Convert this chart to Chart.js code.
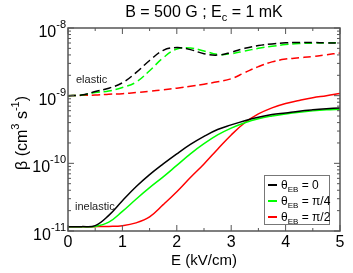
<!DOCTYPE html>
<html>
<head>
<meta charset="utf-8">
<script src="https://cdn.jsdelivr.net/npm/chart.js@4.4.1/dist/chart.umd.min.js"></script>
<style>
    body { margin: 0; background: #fff; }
    canvas { display: block; }
</style>
</head>
<body>
<canvas id="rate-chart" width="353" height="273"></canvas>
<script>
// Electric field values (kV/cm)
const eField = [0, 0.25, 0.5, 0.75, 1, 1.25, 1.5, 1.75, 2, 2.25, 2.5, 2.75, 3, 3.25, 3.5, 3.75, 4, 4.25, 4.5, 4.75, 5];

// Elastic rates (cm^3 s^-1), dashed
const elastic0 = [1.0e-9, 1.02e-9, 1.15e-9, 1.29e-9, 1.55e-9, 2.19e-9, 3.31e-9, 4.68e-9, 5.13e-9, 4.79e-9, 4.17e-9, 3.98e-9, 4.37e-9, 5.01e-9, 5.5e-9, 5.82e-9, 6.03e-9, 6.1e-9, 6.1e-9, 6.03e-9, 6.03e-9];
const elasticQuarter = [1.0e-9, 1.02e-9, 1.11e-9, 1.17e-9, 1.32e-9, 1.58e-9, 2.34e-9, 3.63e-9, 4.9e-9, 5.07e-9, 4.57e-9, 4.07e-9, 4.17e-9, 4.57e-9, 5.01e-9, 5.37e-9, 5.69e-9, 5.89e-9, 5.96e-9, 6.03e-9, 6.03e-9];
const elasticHalf = [1.0e-9, 1.01e-9, 1.02e-9, 1.05e-9, 1.07e-9, 1.11e-9, 1.16e-9, 1.22e-9, 1.29e-9, 1.38e-9, 1.48e-9, 1.6e-9, 1.78e-9, 2.19e-9, 2.69e-9, 3.16e-9, 3.47e-9, 3.63e-9, 3.8e-9, 4.03e-9, 4.27e-9];

// Inelastic rates (cm^3 s^-1), solid
const inelastic0 = [1.16e-11, 1.16e-11, 1.2e-11, 1.7e-11, 2.8e-11, 4.5e-11, 6.8e-11, 9.8e-11, 1.38e-10, 1.9e-10, 2.5e-10, 3.16e-10, 3.7e-10, 4.27e-10, 4.8e-10, 5.25e-10, 5.56e-10, 5.9e-10, 6.17e-10, 6.4e-10, 6.6e-10];
const inelasticQuarter = [1.16e-11, 1.16e-11, 1.17e-11, 1.35e-11, 1.95e-11, 2.95e-11, 4.37e-11, 6.31e-11, 9.33e-11, 1.38e-10, 1.95e-10, 2.63e-10, 3.31e-10, 3.98e-10, 4.57e-10, 5.01e-10, 5.37e-10, 5.69e-10, 5.96e-10, 6.17e-10, 6.31e-10];
const inelasticHalf = [1.16e-11, 1.16e-11, 1.16e-11, 1.17e-11, 1.2e-11, 1.32e-11, 1.62e-11, 2.45e-11, 3.8e-11, 6.17e-11, 9.8e-11, 1.62e-10, 2.63e-10, 3.98e-10, 5.37e-10, 6.61e-10, 7.67e-10, 8.51e-10, 9.33e-10, 1.0e-9, 1.08e-9];

// Axis ticks
const xTicks = [0, 1, 2, 3, 4, 5];
const xMinorTicks = [0.5, 1.5, 2.5, 3.5, 4.5];
const yDecades = [-11, -10, -9, -8];

const legendLabels = ['0', '\u03c0/4', '\u03c0/2'];
const seriesColors = ['#000000', '#00ff00', '#ff0000'];

const FONT = '"Liberation Sans", Arial, sans-serif';

function pairs(ys) {
    return eField.map((x, i) => ({ x: x, y: ys[i] }));
}

function makeSet(ys, color, dashed) {
    return {
        data: pairs(ys),
        borderColor: color,
        borderWidth: 1.5,
        borderDash: dashed ? [8, 4] : [],
        pointRadius: 0,
        fill: false,
        tension: 0.4
    };
}

// Draw text with a raised or lowered small part, left aligned at x
function drawRich(ctx, parts, x, y) {
    let cx = x;
    parts.forEach(p => {
        ctx.font = p.size + 'px ' + FONT;
        ctx.fillText(p.text, cx, y + (p.dy || 0));
        cx += ctx.measureText(p.text).width;
    });
    return cx - x;
}

function richWidth(ctx, parts) {
    let w = 0;
    parts.forEach(p => {
        ctx.font = p.size + 'px ' + FONT;
        w += ctx.measureText(p.text).width;
    });
    return w;
}

// Frame, ticks, labels and legend
const decorations = {
    id: 'decorations',
    afterDatasetsDraw(chart) {
        const ctx = chart.ctx;
        const a = chart.chartArea;
        const xs = chart.scales.x;
        const ys = chart.scales.y;

        ctx.save();
        ctx.strokeStyle = '#555';
        ctx.lineWidth = 1.5;
        ctx.strokeRect(a.left, a.top, a.right - a.left, a.bottom - a.top);

        ctx.lineWidth = 1;
        ctx.beginPath();
        xTicks.forEach(v => {
            const px = xs.getPixelForValue(v);
            ctx.moveTo(px, a.bottom); ctx.lineTo(px, a.bottom - 6);
            ctx.moveTo(px, a.top); ctx.lineTo(px, a.top + 6);
        });
        xMinorTicks.forEach(v => {
            const px = xs.getPixelForValue(v);
            ctx.moveTo(px, a.bottom); ctx.lineTo(px, a.bottom - 3);
            ctx.moveTo(px, a.top); ctx.lineTo(px, a.top + 3);
        });
        yDecades.forEach(d => {
            const py = ys.getPixelForValue(Math.pow(10, d));
            ctx.moveTo(a.left, py); ctx.lineTo(a.left + 6, py);
            ctx.moveTo(a.right, py); ctx.lineTo(a.right - 6, py);
            if (d < -8) {
                for (let m = 2; m <= 9; m++) {
                    const pm = ys.getPixelForValue(m * Math.pow(10, d));
                    ctx.moveTo(a.left, pm); ctx.lineTo(a.left + 3, pm);
                    ctx.moveTo(a.right, pm); ctx.lineTo(a.right - 3, pm);
                }
            }
        });
        ctx.stroke();

        // tick labels
        ctx.fillStyle = '#000';
        ctx.textBaseline = 'alphabetic';
        ctx.textAlign = 'center';
        ctx.font = '16px ' + FONT;
        xTicks.forEach(v => {
            ctx.fillText(String(v), xs.getPixelForValue(v), a.bottom + 16);
        });
        ctx.textAlign = 'left';
        yDecades.forEach(d => {
            const py = ys.getPixelForValue(Math.pow(10, d));
            const parts = [
                { text: '10', size: 16 },
                { text: String(d), size: 11, dy: -9 }
            ];
            const w = richWidth(ctx, parts);
            drawRich(ctx, parts, a.left - 2 - w, py + 9);
        });

        // axis titles
        ctx.textAlign = 'center';
        ctx.font = '15px ' + FONT;
        ctx.fillText('E (kV/cm)', (a.left + a.right) / 2, a.bottom + 34);

        ctx.save();
        ctx.translate(27, 133);
        ctx.rotate(-Math.PI / 2);
        ctx.textAlign = 'left';
        const yParts = [
            { text: '\u03b2 (cm', size: 16 },
            { text: '3', size: 11, dy: -8 },
            { text: ' s', size: 16 },
            { text: '-1', size: 11, dy: -8 },
            { text: ')', size: 16 }
        ];
        drawRich(ctx, yParts, -richWidth(ctx, yParts) / 2, 0);
        ctx.restore();

        // title
        ctx.textAlign = 'left';
        const tParts = [
            { text: 'B = 500 G ; E', size: 16 },
            { text: 'c', size: 11, dy: 4 },
            { text: ' = 1 mK', size: 16 }
        ];
        drawRich(ctx, tParts, (a.left + a.right) / 2 - richWidth(ctx, tParts) / 2, 17);

        // curve annotations
        ctx.fillStyle = '#222';
        ctx.font = '11px ' + FONT;
        ctx.fillText('elastic', 76, 83);
        ctx.fillText('inelastic', 75, 210);

        // legend
        const box = { left: 264, top: 175, right: 329, bottom: 224 };
        ctx.strokeStyle = '#777';
        ctx.lineWidth = 1;
        ctx.strokeRect(box.left + 0.5, box.top + 0.5, box.right - box.left, box.bottom - box.top);
        ctx.fillStyle = '#000';
        legendLabels.forEach((lab, i) => {
            const ry = 185 + i * 16;
            ctx.strokeStyle = seriesColors[i];
            ctx.lineWidth = 2;
            ctx.beginPath();
            ctx.moveTo(268, ry); ctx.lineTo(277, ry);
            ctx.stroke();
            drawRich(ctx, [
                { text: '\u03b8', size: 12 },
                { text: 'EB', size: 8, dy: 3 },
                { text: ' = ' + lab, size: 12 }
            ], 281, ry + 4);
        });
        ctx.restore();
    }
};

const chart = new Chart(document.getElementById('rate-chart').getContext('2d'), {
    type: 'line',
    data: {
        datasets: [
            makeSet(elastic0, seriesColors[0], true),
            makeSet(elasticQuarter, seriesColors[1], true),
            makeSet(elasticHalf, seriesColors[2], true),
            makeSet(inelastic0, seriesColors[0], false),
            makeSet(inelasticQuarter, seriesColors[1], false),
            makeSet(inelasticHalf, seriesColors[2], false)
        ]
    },
    options: {
        responsive: false,
        animation: false,
        layout: {
            padding: { left: 68, right: 13, top: 28, bottom: 42 }
        },
        plugins: {
            legend: { display: false },
            tooltip: { enabled: false }
        },
        scales: {
            x: { type: 'linear', min: 0, max: 5, display: false },
            y: { type: 'logarithmic', min: 1e-11, max: 1e-8, display: false }
        }
    },
    plugins: [decorations]
});
</script>
</body>
</html>
